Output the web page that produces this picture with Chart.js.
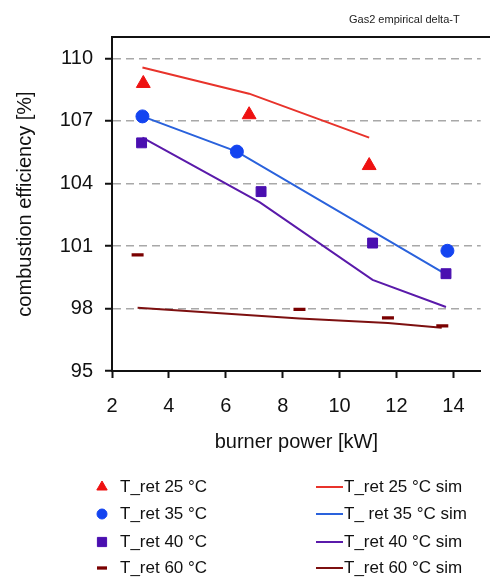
<!DOCTYPE html>
<html>
<head>
<meta charset="utf-8">
<script src="https://cdn.jsdelivr.net/npm/chart.js@4/dist/chart.umd.min.js"></script>
<style>
  body { margin: 0; background: #fff; }
  #wrap { position: relative; width: 490px; height: 581px; }
  #title { position: absolute; left: 349px; top: 13px; font: 11px "Liberation Sans", Arial, sans-serif; color: #222; }
</style>
</head>
<body>
<div id="wrap">
  <canvas id="effChart" width="490" height="581"></canvas>
  <div id="title">Gas2 empirical delta-T</div>
</div>
<script>
// measured points [burner power kW, efficiency %]
const t25x = [3.1, 6.82, 11.04];
const t25y = [108.8, 107.3, 104.86];
const t35x = [3.07, 6.39, 13.79];
const t35y = [107.22, 105.53, 100.77];
const t40x = [3.04, 7.24, 11.16, 13.74];
const t40y = [105.95, 103.61, 101.14, 99.67];
const t60x = [2.9, 8.59, 11.7, 13.61];
const t60y = [100.57, 97.96, 97.55, 97.17];

// simulated lines
const s25x = [3.07, 6.82, 11.04];
const s25y = [109.57, 108.31, 106.2];
const s35x = [3.07, 6.39, 13.7];
const s35y = [107.22, 105.53, 99.67];
const s40x = [3.07, 7.2, 11.16, 13.74];
const s40y = [106.2, 103.09, 99.37, 98.07];
const s60x = [2.9, 8.59, 11.7, 13.59];
const s60y = [98.04, 97.52, 97.3, 97.07];

const yTicks = [95, 98, 101, 104, 107, 110];
const xTicks = [2, 4, 6, 8, 10, 12, 14];

function pts(xs, ys) {
  return xs.map(function (x, i) { return { x: x, y: ys[i] }; });
}

const FONT = "'Liberation Sans', Arial, sans-serif";

// top frame line + two column legend
const framePlugin = {
  id: 'frame',
  afterDraw: function (chart) {
    const ctx = chart.ctx;
    const a = chart.chartArea;
    ctx.save();
    ctx.strokeStyle = '#111';
    ctx.lineWidth = 2;
    ctx.beginPath();
    ctx.moveTo(a.left, a.top);
    ctx.lineTo(chart.width, a.top);
    ctx.stroke();

    const rows = [487, 514, 542, 568];
    const ds = chart.data.datasets;
    ctx.font = '17px ' + FONT;
    ctx.textBaseline = 'middle';
    for (let i = 0; i < 4; i++) {
      const d = ds[i];
      const y = rows[i];
      ctx.fillStyle = d.backgroundColor;
      ctx.strokeStyle = d.borderColor;
      ctx.lineWidth = d.pointStyle === 'line' ? 3.3 : 1;
      Chart.helpers.drawPoint(ctx, {
        pointStyle: d.pointStyle,
        radius: d.legendRadius,
        borderWidth: ctx.lineWidth
      }, 102, y);
      ctx.fillStyle = '#111';
      ctx.fillText(d.label, 120, y);
    }
    for (let i = 4; i < 8; i++) {
      const d = ds[i];
      const y = rows[i - 4];
      ctx.strokeStyle = d.borderColor;
      ctx.lineWidth = 2;
      ctx.beginPath();
      ctx.moveTo(316, y);
      ctx.lineTo(343, y);
      ctx.stroke();
      ctx.fillStyle = '#111';
      ctx.fillText(d.label, 344, y);
    }
    ctx.restore();
  }
};

function markerSet(label, data, style, r, lr, color) {
  return {
    label: label,
    data: data,
    showLine: false,
    pointStyle: style,
    pointRadius: r,
    pointHoverRadius: r,
    legendRadius: lr,
    backgroundColor: color,
    borderColor: color,
    pointBorderWidth: style === 'line' ? 3.3 : 1
  };
}
function lineSet(label, data, color) {
  return {
    label: label,
    data: data,
    showLine: true,
    borderColor: color,
    backgroundColor: color,
    borderWidth: 2,
    pointRadius: 0,
    tension: 0
  };
}

const datasets = [
  markerSet('T_ret 25 °C', pts(t25x, t25y), 'triangle', 8, 6, '#ee1111'),
  markerSet('T_ret 35 °C', pts(t35x, t35y), 'circle', 6.5, 5, '#1444f0'),
  markerSet('T_ret 40 °C', pts(t40x, t40y), 'rect', 7, 6.5, '#4a0fb0'),
  markerSet('T_ret 60 °C', pts(t60x, t60y), 'line', 6, 5, '#7a0000'),
  lineSet('T_ret 25 °C sim', pts(s25x, s25y), '#e8332b'),
  lineSet('T_ ret 35 °C sim', pts(s35x, s35y), '#2a62dc'),
  lineSet('T_ret 40 °C sim', pts(s40x, s40y), '#5a1aaa'),
  lineSet('T_ret 60 °C sim', pts(s60x, s60y), '#7d1010')
];

new Chart(document.getElementById('effChart'), {
  type: 'scatter',
  data: { datasets: datasets },
  options: {
    responsive: false,
    animation: false,
    layout: { padding: { top: 37, right: 0, bottom: 126, left: 0 } },
    plugins: {
      legend: { display: false },
      tooltip: { enabled: false }
    },
    scales: {
      x: {
        type: 'linear',
        min: 2,
        max: 14.96,
        afterBuildTicks: function (scale) {
          scale.ticks = xTicks.map(function (v) { return { value: v }; });
        },
        afterFit: function (scale) { scale.height = 84; },
        grid: { display: true, drawOnChartArea: false, drawTicks: true, tickLength: 7, tickWidth: 2, tickColor: '#111' },
        border: { display: true, color: '#111', width: 2 },
        ticks: { color: '#111', font: { family: FONT, size: 20 }, padding: 16 },
        title: { display: true, text: 'burner power [kW]', color: '#111', font: { family: FONT, size: 20 }, padding: { top: 0, bottom: 1 } }
      },
      y: {
        type: 'linear',
        min: 95,
        max: 111.03,
        afterBuildTicks: function (scale) {
          scale.ticks = yTicks.map(function (v) { return { value: v }; });
        },
        afterFit: function (scale) { scale.width = 112; },
        grid: {
          display: true,
          drawOnChartArea: true,
          color: function (c) { return c.tick && c.tick.value === 95 ? 'rgba(0,0,0,0)' : '#a8a8a8'; },
          lineWidth: 1.5,
          tickLength: 7,
          tickColor: '#111',
          tickWidth: 2,
          tickBorderDash: [],
          tickBorderDashOffset: 0
        },
        border: { display: true, color: '#111', width: 2, dash: [8, 5] },
        ticks: { color: '#111', font: { family: FONT, size: 20 }, padding: 12 },
        title: { display: true, text: 'combustion efficiency [%]', color: '#111', font: { family: FONT, size: 20 }, padding: { top: 13, bottom: 0 } }
      }
    }
  },
  plugins: [framePlugin]
});
</script>
</body>
</html>
